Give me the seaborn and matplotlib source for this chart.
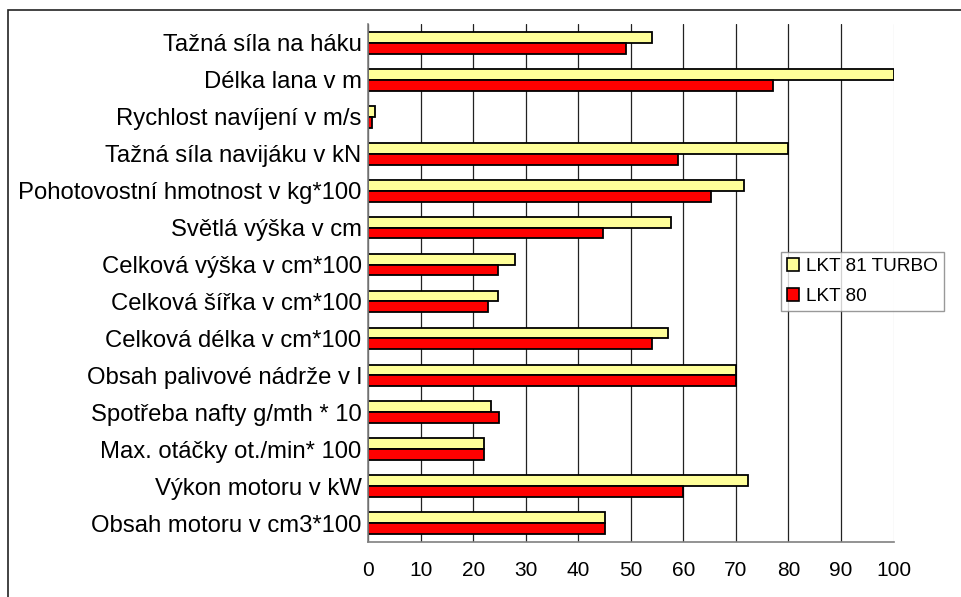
import matplotlib
matplotlib.use("Agg")
import matplotlib.pyplot as plt
from matplotlib.patches import Rectangle
import numpy as np
import pandas as pd
import seaborn as sns

categories = [
    "Tažná síla na háku",
    "Délka lana v m",
    "Rychlost navíjení v m/s",
    "Tažná síla navijáku v kN",
    "Pohotovostní hmotnost v kg*100",
    "Světlá výška v cm",
    "Celková výška v cm*100",
    "Celková šířka v cm*100",
    "Celková délka v cm*100",
    "Obsah palivové nádrže v l",
    "Spotřeba nafty g/mth * 10",
    "Max. otáčky ot./min* 100",
    "Výkon motoru v kW",
    "Obsah motoru v cm3*100",
]
lkt81_turbo = [54, 100, 1.2, 80, 71.6, 57.6, 27.9, 24.6, 57.0, 70, 23.3, 22, 72.2, 45]
lkt80 = [49, 77, 0.6, 59, 65.2, 44.6, 24.6, 22.7, 54.0, 70, 24.9, 22, 60, 45]
series_names = ["LKT 81 TURBO", "LKT 80"]
series_colors = ["#FFFF99", "#FF0000"]
x_ticks = list(range(0, 101, 10))

df = pd.DataFrame({
    "kategorie": categories * 2,
    "hodnota": lkt81_turbo + lkt80,
    "typ": [series_names[0]] * len(categories) + [series_names[1]] * len(categories),
})

sns.set_style("white")
plt.rcParams["font.family"] = ["Liberation Sans", "DejaVu Sans"]
plt.rcParams["text.color"] = "black"
plt.rcParams["xtick.labelcolor"] = "black"
plt.rcParams["ytick.labelcolor"] = "black"

fig = plt.figure(figsize=(9.62, 5.97), dpi=100)
ax = fig.add_axes([0.383, 0.0926, 0.5458, 0.8667])

sns.barplot(
    data=df, x="hodnota", y="kategorie", hue="typ", order=categories,
    hue_order=series_names, palette=series_colors, orient="h",
    width=0.59, edgecolor="black", linewidth=1.3, saturation=1, ax=ax,
    legend=True,
)

ax.set_xlim(0, 100)
ax.set_ylim(len(categories) - 0.5, -0.5)
ax.set_xticks(x_ticks)
ax.set_xticklabels([str(t) for t in x_ticks], fontsize=15, color="black")
ax.set_xlabel("")
ax.set_ylabel("")

# vertical gridlines behind the bars
ax.set_axisbelow(True)
ax.xaxis.grid(True, color="#222222", linewidth=0.9)
ax.yaxis.grid(False)
ax.get_xgridlines()[-1].set_color("#d0d0d0")

# category labels without tick marks, boundary tick marks on the left
ax.tick_params(axis="y", which="major", length=0, pad=5, labelsize=17.2, labelcolor="black")
ax.set_yticks(np.arange(-0.5, len(categories) + 0.5, 1), minor=True)
ax.tick_params(axis="y", which="minor", length=4, color="#808080", width=1, direction="out")
ax.tick_params(axis="x", which="major", length=4, color="#808080", width=1,
               direction="out", pad=10, labelcolor="black")

for side in ("top", "right"):
    ax.spines[side].set_visible(False)
for side in ("left", "bottom"):
    ax.spines[side].set_color("#808080")
    ax.spines[side].set_linewidth(1.2)

leg = ax.legend(
    loc="upper left", bbox_to_anchor=(0.786, 0.56), frameon=True, fancybox=False,
    fontsize=13.7, handlelength=0.63, handleheight=0.63, handletextpad=0.37,
    borderpad=0.32, labelspacing=0.68, borderaxespad=0,
)
leg.get_frame().set_edgecolor("#808080")
leg.get_frame().set_linewidth(1.0)
for t in leg.get_texts():
    t.set_color("black")
for h in leg.legend_handles:
    h.set_edgecolor("black")
    h.set_linewidth(1.2)

# outer chart frame
fig.patches.append(Rectangle((8 / 962, -0.05), 1.2, 1 - 10 / 597 + 0.05,
                             transform=fig.transFigure, fill=False,
                             edgecolor="#222222", linewidth=1.2, zorder=0))

fig.savefig("out.png", dpi=100)
